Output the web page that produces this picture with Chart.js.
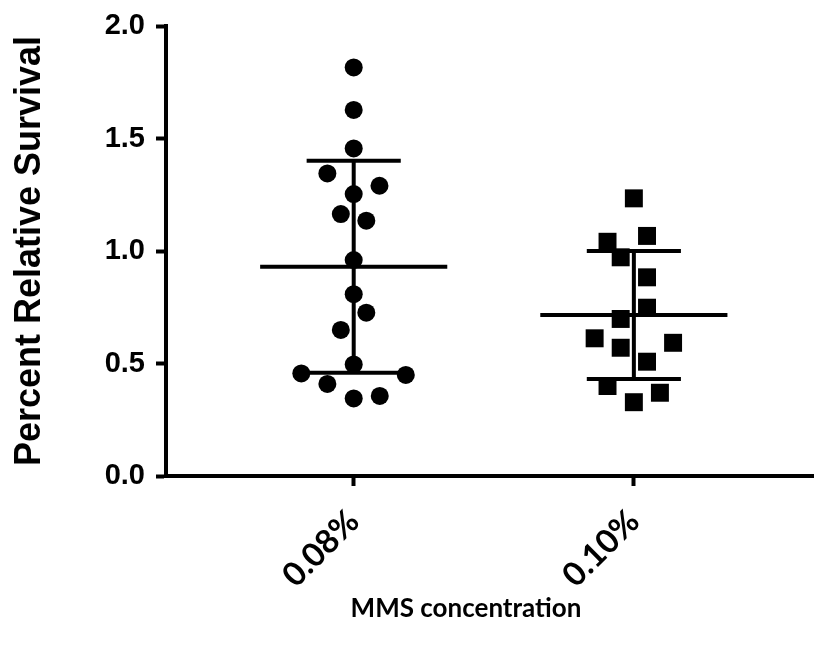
<!DOCTYPE html>
<html>
<head>
<meta charset="utf-8">
<script src="https://cdn.jsdelivr.net/npm/chart.js@4.4.1/dist/chart.umd.min.js"></script>
<style>
  html, body { margin: 0; padding: 0; background: #ffffff; overflow: hidden; }
  #wrap { position: relative; width: 814px; height: 648px; overflow: hidden; }
  #xtitle { position: absolute; left: 0; top: 591px; width: 932px; text-align: center;
            font-family: Lato, "Open Sans", sans-serif; font-weight: bold; font-size: 26px; color: #000; }
</style>
</head>
<body>
<div id="wrap">
  <canvas id="c" width="814" height="648"></canvas>
  <div id="xtitle"></div>
</div>
<script>
// ---- data ----
const categories = ["0.08%", "0.10%"];
const yTickLabels = ["0.0", "0.5", "1.0", "1.5", "2.0"];
const xTitle = "MMS concentration";
const yTitle = "Percent Relative Survival";

// 0.08% group (circles): value and horizontal jitter (in category units)
const values008 = [1.816, 1.627, 1.456, 1.345, 1.290, 1.253, 1.164, 1.135, 0.960, 0.808, 0.726, 0.649, 0.496, 0.456, 0.449, 0.409, 0.345, 0.356];
const jitter008 = [0, 0, 0, -0.094, 0.092, 0, -0.046, 0.045, 0, 0, 0.045, -0.046, 0, -0.187, 0.186, -0.094, 0, 0.093];

// 0.10% group (squares)
const values010 = [1.234, 1.041, 1.067, 0.972, 0.883, 0.748, 0.698, 0.612, 0.570, 0.592, 0.508, 0.400, 0.370, 0.328];
const jitter010 = [0, -0.094, 0.047, -0.047, 0.047, 0.047, -0.047, -0.14, -0.047, 0.14, 0.047, -0.094, 0.093, 0];

document.getElementById('xtitle').textContent = xTitle;

// ---- derived ----
function mean(a) { return a.reduce((s, v) => s + v, 0) / a.length; }
function sd(a) { const m = mean(a); return Math.sqrt(a.reduce((s, v) => s + (v - m) * (v - m), 0) / (a.length - 1)); }

const groups = [
  { vals: values008, jit: jitter008, style: 'circle', radius: 9 },
  { vals: values010, jit: jitter010, style: 'rect', radius: 12.7 }
];

const datasets = [];
const lineStyle = { borderColor: '#000', borderWidth: 4, pointRadius: 0, showLine: true, fill: false, borderCapStyle: 'butt' };
groups.forEach((g, i) => {
  const cx = i + 1;
  const m = mean(g.vals), s = sd(g.vals);
  datasets.push(Object.assign({ data: [{ x: cx - 0.334, y: m }, { x: cx + 0.334, y: m }] }, lineStyle));
  datasets.push(Object.assign({ data: [{ x: cx - 0.168, y: m + s }, { x: cx + 0.168, y: m + s }] }, lineStyle));
  datasets.push(Object.assign({ data: [{ x: cx - 0.168, y: m - s }, { x: cx + 0.168, y: m - s }] }, lineStyle));
  datasets.push(Object.assign({ data: [{ x: cx, y: m - s }, { x: cx, y: m + s }] }, lineStyle));
});
groups.forEach((g, i) => {
  datasets.push({
    data: g.vals.map((v, k) => ({ x: i + 1 + g.jit[k], y: v })),
    pointStyle: g.style,
    pointRadius: g.radius,
    pointHoverRadius: g.radius,
    backgroundColor: '#000',
    borderColor: '#000',
    borderWidth: 0,
    showLine: false
  });
});

new Chart(document.getElementById('c'), {
  type: 'scatter',
  data: { datasets },
  options: {
    responsive: false,
    animation: false,
    events: [],
    layout: { autoPadding: false, padding: { top: 26, right: 0, left: 0, bottom: 0 } },
    plugins: { legend: { display: false }, tooltip: { enabled: false } },
    scales: {
      x: {
        type: 'linear',
        min: 0.33,
        max: 2.643,
        afterBuildTicks: s => { s.ticks = categories.map((c, i) => ({ value: i + 1 })); },
        afterFit: s => { s.height = 172; s.paddingLeft = 0; s.paddingRight = 0; },
        ticks: {
          autoSkip: false,
          maxRotation: 45,
          minRotation: 45,
          padding: 16,
          color: '#000',
          font: { family: 'Lato, "Open Sans", sans-serif', weight: 'bold', size: 33 },
          callback: (v) => categories[Math.round(v) - 1]
        },
        grid: { drawOnChartArea: false, tickLength: 10, tickWidth: 4, tickColor: '#000' },
        border: { display: true, color: '#000', width: 4 }
      },
      y: {
        min: 0,
        max: 2,
        afterFit: s => { s.width = 166; s.paddingTop = 0; s.paddingBottom = 0; },
        afterBuildTicks: s => { s.ticks = yTickLabels.map(t => ({ value: parseFloat(t) })); },
        ticks: {
          padding: 11,
          color: '#000',
          font: { family: '"Liberation Sans", Arial, sans-serif', weight: 'bold', size: 29 },
          callback: (v) => yTickLabels.find(t => parseFloat(t) === v)
        },
        title: {
          display: true,
          text: yTitle,
          color: '#000',
          padding: { top: 8, bottom: 0 },
          font: { family: '"Liberation Sans", Arial, sans-serif', weight: 'bold', size: 36 }
        },
        grid: { drawOnChartArea: false, tickLength: 10, tickWidth: 4, tickColor: '#000' },
        border: { display: true, color: '#000', width: 4 }
      }
    }
  }
});
</script>
</body>
</html>
